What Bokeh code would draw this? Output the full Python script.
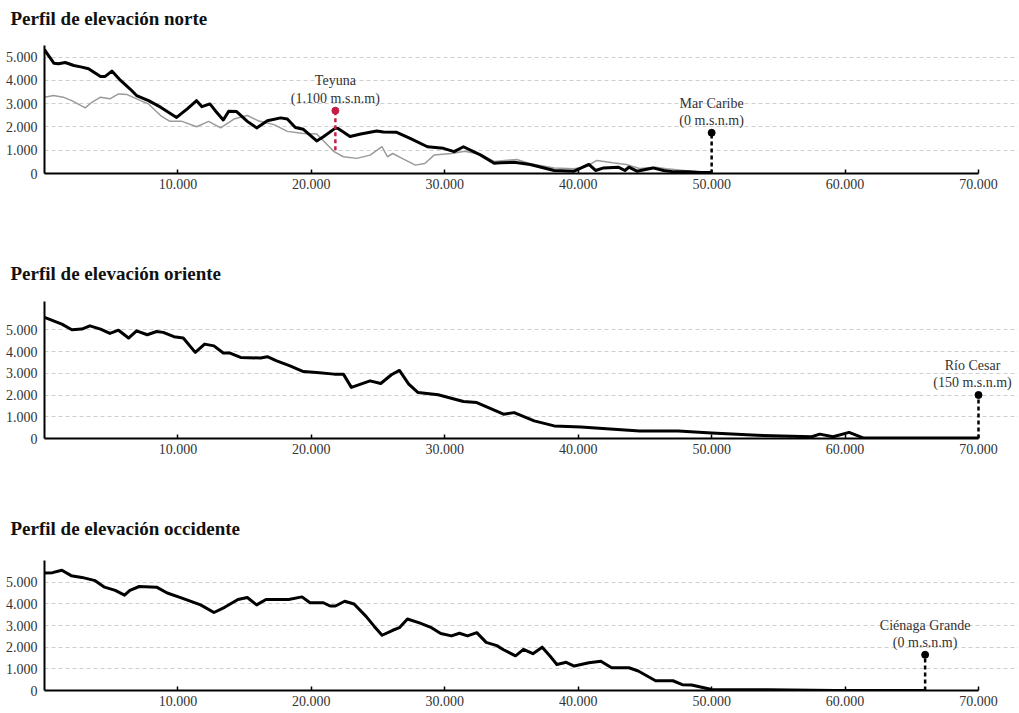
from bokeh.plotting import figure
from bokeh.models import Range1d, FixedTicker, Label
from bokeh.layouts import column
from bokeh.embed import file_html
from bokeh.resources import INLINE

# ---------------- data ----------------
x_ticks = [10000, 20000, 30000, 40000, 50000, 60000, 70000]
x_tick_labels = ["10.000", "20.000", "30.000", "40.000", "50.000", "60.000", "70.000"]
y_ticks = [0, 1000, 2000, 3000, 4000, 5000]
y_tick_labels = ["0", "1.000", "2.000", "3.000", "4.000", "5.000"]
grid_levels = [1000, 2000, 3000, 4000, 5000]
x_max = 70000

titles = ["Perfil de elevación norte", "Perfil de elevación oriente", "Perfil de elevación occidente"]

norte_dist = [0, 200, 700, 1050, 1550, 2200, 2800, 3300, 4200, 4550, 5050, 5700, 6400, 6900, 7800,
              8700, 9900, 10700, 11400, 11800, 12400, 12800, 13400, 13800, 14400, 15200, 15900, 16700,
              17700, 18200, 18800, 19400, 20400, 20900, 21800, 22000, 22900, 23700, 24900, 25400, 26400,
              27400, 28700, 29900, 30700, 31400, 32700, 33700, 34200, 35200, 36400, 38200, 39700, 40800,
              41300, 41900, 43000, 43500, 43800, 44400, 45600, 46400, 47200, 48200, 49200, 50000]
norte_elev = [5320, 5150, 4740, 4715, 4770, 4640, 4570, 4500, 4170, 4170, 4400, 4000, 3640, 3350, 3130,
              2850, 2410, 2780, 3130, 2870, 2990, 2700, 2300, 2670, 2660, 2240, 1960, 2270,
              2390, 2340, 1980, 1900, 1400, 1580, 1950, 1930, 1590, 1700, 1830, 1780, 1770,
              1510, 1150, 1080, 940, 1150, 790, 440, 460, 480, 390, 130, 100, 390,
              130, 240, 270, 130, 270, 100, 240, 130, 70, 70, 45, 40]

norte_gris_dist = [0, 670, 1400, 2050, 3050, 3550, 4200, 4900, 5550, 6200, 7200, 7800, 8700, 9400,
                   10300, 11400, 12300, 13200, 14200, 15200, 16000, 17200, 18200, 19400, 20400, 21400,
                   21700, 22400, 23400, 24400, 25300, 25700, 26100, 26800, 27800, 28500, 29200, 30500,
                   31500, 32700, 33700, 35400, 36400, 38200, 39700, 40600, 41400, 42600, 43600, 44600,
                   45800, 46600, 47900, 49200, 50000]
norte_gris_elev = [3280, 3350, 3280, 3130, 2820, 3060, 3280, 3210, 3420, 3390, 3130, 2990, 2490, 2240,
                   2240, 2010, 2240, 1960, 2340, 2490, 2270, 2100, 1810, 1720, 1700, 1120,
                   940, 720, 650, 790, 1150, 720, 860, 650, 360, 430, 790, 860,
                   960, 820, 520, 600, 420, 240, 200, 300, 560, 460, 390, 215,
                   272, 200, 130, 60, 40]

oriente_dist = [0, 1300, 2050, 2800, 3400, 4200, 4900, 5550, 6300, 6900, 7700, 8400, 8900, 9700, 10400,
                11300, 12000, 12700, 13400, 13900, 14700, 16200, 16700, 17400, 18400, 19400, 20400,
                21700, 22400, 23000, 23700, 24400, 25200, 26000, 26600, 27300, 28000, 29500, 31400,
                32400, 34400, 35200, 36700, 38200, 40200, 44600, 47500, 50000, 53400, 57500, 58100,
                59100, 60300, 61400, 70000]
oriente_elev = [5570, 5260, 5000, 5030, 5180, 5030, 4830, 4980, 4620, 4950, 4770, 4920, 4880, 4680, 4620,
                3960, 4340, 4260, 3930, 3930, 3730, 3700, 3760, 3570, 3340, 3080, 3040,
                2960, 2960, 2350, 2500, 2650, 2530, 2930, 3130, 2500, 2110, 2010, 1700,
                1650, 1120, 1190, 810, 580, 530, 350, 350, 250, 150, 80, 200,
                80, 280, 20, 20]

occidente_dist = [0, 600, 1300, 2000, 2800, 3800, 4500, 5300, 6000, 6400, 7100, 8400, 9200, 10200,
                  11700, 12700, 13500, 14500, 15200, 15900, 16600, 18300, 19300, 19900, 20900, 21400,
                  21800, 22500, 23200, 24100, 24700, 25300, 26100, 26600, 27200, 28100, 29000, 29700,
                  30500, 31100, 31700, 32400, 33100, 33900, 34400, 35300, 35900, 36600, 37300, 37900,
                  38400, 39100, 39700, 40800, 41700, 42500, 43800, 44500, 45800, 47100, 47800, 48500,
                  50000, 54200, 59200, 66000]
occidente_elev = [5420, 5440, 5550, 5300, 5220, 5070, 4770, 4620, 4400, 4620, 4800, 4770, 4500, 4290,
                  3950, 3600, 3840, 4200, 4290, 3950, 4200, 4200, 4320, 4050, 4050, 3900,
                  3900, 4120, 3990, 3420, 2970, 2550, 2780, 2900, 3300, 3120, 2900, 2630,
                  2520, 2640, 2520, 2670, 2220, 2070, 1880, 1600, 1900, 1700, 2000, 1580,
                  1200, 1300, 1130, 1280, 1350, 1050, 1050, 900, 450, 450, 270, 250,
                  45, 30, 0, 0]

# reference points: distance, dot elevation (top of marker), base elevation
teyuna_dist, teyuna_top, teyuna_base = 21800, 2700, 1000
caribe_dist, caribe_top, caribe_base = 50000, 1750, 0
cesar_dist, cesar_top, cesar_base = 70000, 2000, 0
cienaga_dist, cienaga_top, cienaga_base = 66000, 1650, 0
teyuna_label = "Teyuna\n(1.100 m.s.n.m)"
caribe_label = "Mar Caribe\n(0 m.s.n.m)"
cesar_label = "Río Cesar\n(150 m.s.n.m)"
cienaga_label = "Ciénaga Grande\n(0 m.s.n.m)"

# ---------------- styling ----------------
SERIF = "Liberation Serif"
RED = "#c41e45"
FRAME_W = 974          # frame is wider than the axis so the edge label is not clipped
RANGE_END = 72998      # data range of the frame; axis itself stops at x_max
FIG_W = 44 + FRAME_W


def style_title(p, standoff):
    p.title.text_font = SERIF
    p.title.text_font_size = "19px"
    p.title.text_font_style = "bold"
    p.title.text_color = "#111111"
    p.title.align = "left"
    p.title.offset = -34
    p.title.standoff = standoff


def make_fig(title, ymax, top_b, frame_h, bottom_b, standoff):
    p = figure(width=FIG_W, height=top_b + frame_h + bottom_b,
               x_range=Range1d(0, RANGE_END), y_range=Range1d(0, ymax),
               output_backend="svg", toolbar_location=None,
               min_border_left=44, min_border_right=0,
               min_border_top=top_b, min_border_bottom=bottom_b, title=title)
    p.outline_line_color = None
    p.background_fill_color = "white"
    p.border_fill_color = "white"
    if title:
        style_title(p, standoff)

    xa = p.xaxis[0]
    xa.bounds = (0, x_max)
    xa.ticker = FixedTicker(ticks=x_ticks)
    xa.major_label_overrides = dict(zip(x_ticks, x_tick_labels))
    xa.axis_line_width = 2
    xa.axis_line_color = "black"
    xa.major_tick_in = 4
    xa.major_tick_out = 0
    xa.major_tick_line_width = 1.5
    xa.major_tick_line_color = "black"
    xa.minor_tick_line_color = None
    xa.major_label_text_font = SERIF
    xa.major_label_text_font_size = "14px"
    xa.major_label_text_color = "#333333"
    xa.major_label_standoff = 5

    ya = p.yaxis[0]
    ya.ticker = FixedTicker(ticks=y_ticks)
    ya.major_label_overrides = dict(zip(y_ticks, y_tick_labels))
    ya.axis_line_width = 2
    ya.axis_line_color = "black"
    ya.major_tick_in = 0
    ya.major_tick_out = 0
    ya.minor_tick_line_color = None
    ya.major_label_text_font = SERIF
    ya.major_label_text_font_size = "14px"
    ya.major_label_text_color = "#333333"
    ya.major_label_standoff = 7

    p.xgrid.visible = False
    p.ygrid.ticker = FixedTicker(ticks=grid_levels)
    p.ygrid.bounds = (0, x_max)
    p.ygrid.grid_line_color = "#cfcfcf"
    p.ygrid.grid_line_dash = "4 3"
    p.ygrid.grid_line_width = 1
    return p


def marker(p, d, top, base, label, color, dx=0):
    p.segment(x0=[d], y0=[base], x1=[d], y1=[top], line_color=color,
              line_width=2.5, line_dash="4 3")
    p.scatter(x=[d], y=[top], size=7, fill_color=color, line_color=color)
    p.add_layout(Label(x=d, y=top, text=label, text_align="center", text_baseline="bottom",
                       x_offset=dx, y_offset=5, text_font=SERIF, text_font_size="14px",
                       text_color="#333333", text_line_height=1.15))


# title strip for the first panel (sits at the very top of the page)
t1 = figure(width=FIG_W, height=38, output_backend="svg", toolbar_location=None,
            x_axis_type=None, y_axis_type=None, min_border_left=44, min_border_right=0,
            min_border_top=0, min_border_bottom=0, title=titles[0])
t1.outline_line_color = None
t1.grid.visible = False
style_title(t1, 10)

p1 = make_fig(None, 5500, 7, 128, 40, 0)
p1.line(norte_gris_dist, norte_gris_elev, line_color="#9a9a9a", line_width=1.5)
p1.line(norte_dist, norte_elev, line_color="black", line_width=3, line_join="round")
marker(p1, teyuna_dist, teyuna_top, teyuna_base, teyuna_label, RED)
marker(p1, caribe_dist, caribe_top, caribe_base, caribe_label, "black")

p2 = make_fig(titles[1], 6300, 88, 137, 40, 36)
p2.line(oriente_dist, oriente_elev, line_color="black", line_width=3, line_join="round")
marker(p2, cesar_dist, cesar_top, cesar_base, cesar_label, "black", dx=-6)

p3 = make_fig(titles[2], 6000, 82, 130, 22, 44)
p3.line(occidente_dist, occidente_elev, line_color="black", line_width=3, line_join="round")
marker(p3, cienaga_dist, cienaga_top, cienaga_base, cienaga_label, "black")

layout = column(t1, p1, p2, p3, spacing=0)
open("out.html", "w").write(file_html(layout, INLINE))
